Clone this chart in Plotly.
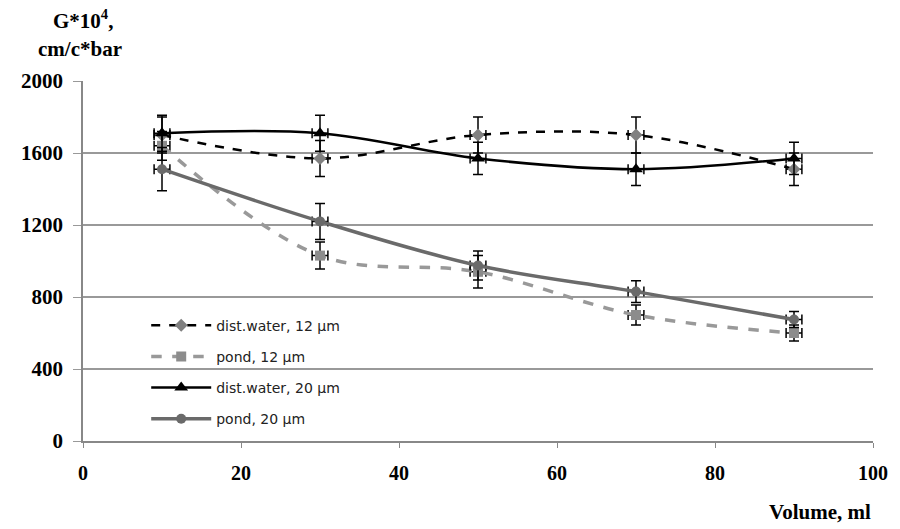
import plotly.graph_objects as go

volume = [10, 30, 50, 70, 90]
dist12 = [1700, 1570, 1700, 1700, 1510]
dist12_err = [100, 100, 100, 100, 90]
pond12 = [1640, 1030, 940, 700, 600]
pond12_err = [80, 75, 90, 55, 45]
dist20 = [1710, 1710, 1570, 1510, 1570]
dist20_err = [100, 100, 90, 90, 90]
pond20 = [1510, 1220, 975, 830, 675]
pond20_err = [120, 100, 80, 60, 45]
x_err = [1, 1, 1, 1, 1]

names = ["dist.water, 12 µm", "pond, 12 µm", "dist.water, 20 µm", "pond, 20 µm"]
series = [dist12, pond12, dist20, pond20]
errs = [dist12_err, pond12_err, dist20_err, pond20_err]
styles = [
    dict(line=dict(color="black", width=2.5, dash="dash", shape="spline", smoothing=1),
         marker=dict(symbol="diamond", size=10, color="#808080")),
    dict(line=dict(color="#999999", width=3.5, dash="dash", shape="spline", smoothing=1),
         marker=dict(symbol="square", size=10, color="#8c8c8c")),
    dict(line=dict(color="black", width=2.5, shape="spline", smoothing=1),
         marker=dict(symbol="triangle-up", size=12, color="black")),
    dict(line=dict(color="#6a6a6a", width=3.5, shape="spline", smoothing=1),
         marker=dict(symbol="circle", size=10, color="#6a6a6a")),
]

fig = go.Figure()
for i, (nm, ys, er, st) in enumerate(zip(names, series, errs, styles)):
    fig.add_trace(go.Scatter(
        x=volume, y=ys, name=nm, mode="lines+markers",
        legendgroup=str(i),
        error_y=dict(type="data", array=er, color="black", thickness=1.5, width=5),
        error_x=dict(type="data", array=x_err, color="black", thickness=1.5, width=5),
        **st))

serif = "Liberation Serif"
fig.update_layout(
    width=900, height=529,
    margin=dict(l=83, r=22, t=81, b=88),
    paper_bgcolor="white", plot_bgcolor="white",
    showlegend=True,
    legend=dict(x=0.08, y=0.365, xanchor="left", yanchor="top",
                font=dict(family="DejaVu Sans", size=14, color="#222"),
                bgcolor="rgba(255,255,255,0)", tracegroupgap=10,
                traceorder="grouped", itemwidth=60),
    xaxis=dict(range=[0, 100], dtick=20, showgrid=False, zeroline=False,
               showline=True, linecolor="#888", linewidth=1.5,
               ticks="outside", ticklen=5, tickcolor="#888",
               tickfont=dict(family=serif, size=20, color="black", weight="bold"),
               ticklabelstandoff=8),
    yaxis=dict(range=[0, 2000], dtick=400, showgrid=True, gridcolor="#999",
               gridwidth=1.5, zeroline=False, showline=True, linecolor="#888",
               linewidth=1.5, ticks="outside", ticklen=8, tickcolor="#999",
               tickfont=dict(family=serif, size=21, color="black", weight="bold"),
               ticklabelstandoff=6),
    annotations=[
        dict(text="<b>G*10<sup>4</sup>,</b>", xref="paper", yref="paper",
             x=-0.0, y=1.0, yshift=62, xanchor="center", yanchor="middle",
             showarrow=False, font=dict(family=serif, size=21, color="black")),
        dict(text="<b>cm/c*bar</b>", xref="paper", yref="paper",
             x=-0.004, y=1.0, yshift=32, xanchor="center", yanchor="middle",
             showarrow=False, font=dict(family=serif, size=21, color="black")),
        dict(text="<b>Volume, ml</b>", xref="paper", yref="paper",
             x=1.0, y=0, yshift=-71, xanchor="right", yanchor="middle",
             showarrow=False, font=dict(family=serif, size=21, color="black")),
    ],
)
fig.write_html("out.html")
